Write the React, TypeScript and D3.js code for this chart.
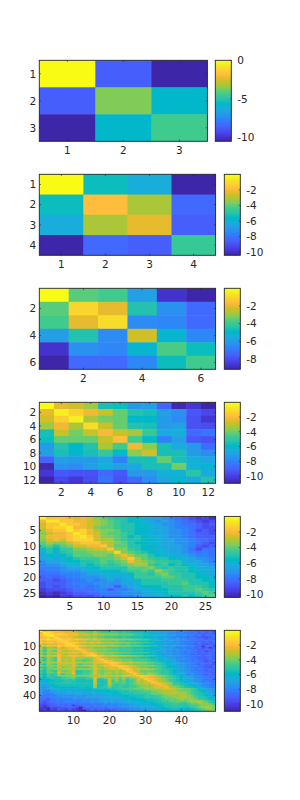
import React from "react";
import * as d3 from "d3";

// Values (log-scale cell values).
const matrix3 = [
  [0, -8.6, -10.5],
  [-8.6, -3.6, -5.6],
  [-10.5, -5.6, -4.4],
];
const matrix4 = [
  [0, -5.3, -6.1, -10.43],
  [-5.3, -1.65, -3.0, -8.2],
  [-6.1, -3.0, -2.2, -8.6],
  [-10.43, -8.2, -8.6, -4.5],
];
const matrix6 = [
  [0, -3.5, -3.8, -5.8, -8.7, -9.2],
  [-3.5, -0.9, -1.9, -4.4, -6.3, -7.3],
  [-3.8, -1.9, -0.75, -6.4, -6.6, -7.3],
  [-5.8, -4.4, -6.4, -2.3, -5.1, -6.6],
  [-8.7, -6.3, -6.6, -5.1, -3.6, -4.7],
  [-9.2, -7.3, -7.3, -6.6, -4.7, -3.8],
];
const matrix12 = [
  [0, -2.3, -2.7, -3.3, -5.5, -5.6, -7.1, -6.9, -8.8, -10.7, -10.3, -11],
  [-2.3, -0.35, -1.3, -2.2, -2.8, -4.1, -5.3, -5.4, -7.0, -7.4, -9.2, -9.7],
  [-2.7, -1.3, -0.45, -3.1, -3.9, -4.0, -6.0, -6.0, -7.1, -7.7, -9.3, -10.2],
  [-3.3, -2.2, -3.1, -1.0, -2.8, -4.0, -5.3, -5.5, -7.1, -7.0, -9.3, -9.5],
  [-5.5, -2.8, -3.9, -2.8, -1.9, -2.8, -3.1, -4.7, -6.6, -6.2, -8.7, -8.4],
  [-5.6, -4.1, -4.0, -4.0, -2.8, -1.8, -4.5, -5.8, -8.0, -7.0, -9.2, -9.4],
  [-7.1, -5.3, -6.0, -5.3, -3.1, -4.5, -2.2, -3.6, -5.5, -6.6, -7.2, -8.6],
  [-6.9, -5.4, -6.0, -5.5, -4.7, -5.8, -3.6, -2.7, -5.4, -5.5, -7.2, -7.7],
  [-8.8, -7.0, -7.1, -7.1, -6.6, -8.0, -5.5, -5.4, -4.0, -5.4, -6.2, -6.8],
  [-10.7, -7.4, -7.7, -7.0, -6.2, -7.0, -6.6, -5.5, -5.4, -3.8, -6.2, -6.1],
  [-10.3, -9.2, -9.3, -9.3, -8.7, -9.2, -7.2, -7.2, -6.2, -6.2, -5.0, -6.7],
  [-11, -9.7, -10.2, -9.5, -8.4, -9.4, -8.6, -7.7, -6.8, -6.1, -6.7, -5.3],
];
// Larger matrices: one character per cell, base 36, in half units below zero.
const rows26 = [
  "0333454578 9AABBCDDEF GHIJIK",
  "4113344567 89ABBCDEDE FGHIJI",
  "5331334567 89AABCCDEE FGGHIH",
  "5322144578 89AABBCDDE FFGHII",
  "6433132467 78AABBCCDE EFGIHI",
  "7544312457 889ABCCDDE EFGHHI",
  "6444321357 789BABCCDE EFGHHH",
  "7545322256 689AABBCDD EEFGGH",
  "8677543335 678ABBCCDD EEFGHI",
  "98A8755443 688AABBCDD DEFHIH",
  "CAB9977655 3779ABCCCD DEGIGG",
  "CACA988777 6278 9ABCCD DEFGFG",
  "DBCBA88877 8646 88ABCC DDEFFG",
  "DCDCBA9998 8753 689AAB CCDEEF",
  "EDDCBBAA98 9874 678 99A ACDDEF",
  "FEEDCCABA9 A987 669A9B ABCDDE",
  "FFFEDDCBBA AAA8 887 9A9 AABCDD",
  "GFFEEEDCCB BBA9 98968 9 AABCCD",
  "GGGFFFEDDC CCCB 99A87 9 9AABCD",
  "HGHGFFEEED CDCC 999988 9AABBC",
  "HHIHGGFEFE DEDC BAAA99 99AABC",
  "IHHHGFFFEE EEDD CAAAA9 98AAAB",
  "IHIHGGFGFE EHED CBBBAA A999AB",
  "JIIIHGGGFF HFFE DCCBBA A9989A",
  "KJKJIHHGGF FFEE EDCCBA AAA989",
  "LKLJJIIIHG GGFF EDDCCB BABA98",
];
const rows49 = [
  "0434445556 7888979AAA 9ABABBCCCC DDEEEEFEFG FGHHIHIHJ",
  "4123444555 6778878999 99A9ABBBBC CDDDEEFFGF GGHGIHIHI",
  "3212323344 4555656677 7788889AAB BCDDDEFEFG FGGHHIHHI",
  "4321344455 6777878899 99A9AABBBC CDDEEFFFGG GHHIHJIIH",
  "4434234445 6677778899 9AA9ABBBBC CDDEEEFGFG GHGHIIJIH",
  "3323323334 3444545566 6677778899 ABBCDDEEEF FGGGHHIHI",
  "4544433345 5667777888 9899AAABBB CCDDEFEFFG GGHHIIHIH",
  "3433433233 3445454566 6677788899 ABCCDDEFEF GGGHGIHIH",
  "5655544323 5677778888 899A9AABBC CDDEEFFEFG GHHIHIJII",
  "4544434332 3445555566 6677788899 ABBCDDEEFE FGGHIKHHI",
  "7977846544 3577788889 99A9AABBBC CCDDEFEFGG GHGIHJIKI",
  "6966655544 3345577777 889999AAAB BCCDDEEFEG FGHHIIHII",
  "8A78946766 6445778889 99AAAABBBC CDDEEFFGFG HGHHIIJIH",
  "6866555544 4534456677 7788899999 ABCCDEEEFF GGGHIHIHI",
  "8A78846766 6654347788 899AAABBBC CDDEFFFGFG HGIHIIIHI",
  "5755545544 4543324455 5566677889 9ABCCDDEEF FGGHHIHHI",
  "9A78947675 7677754778 8899AAAABB CCDDEEFFGG GGHHIIIHI",
  "8A78946665 7788754356 6778889999 ABBCDDEEFF FGHHIIIHI",
  "9A78947675 8898855434 5778889999 ABBCDDEEFG GGHGHIJIH",
  "6866655555 6666554433 3345556677 889ABCCDEE FFGGHHIHI",
  "9B78957675 8988857654 3456778888 99AABCDDEF FGGHIHIIJ",
  "7877766665 6766556544 3333455777 7789ABCCDE EFGFHHIIH",
  "AB88958775 9999857865 5534457788 99A9BCCDEE FGGHHIIJI",
  "8A88776666 7777756765 5553345566 6789ABBCDE FFGHGHIHI",
  "AB89A68875 AA99857877 7676346688 8899AABCDE EFGGHHIHH",
  "9B88957775 AA99857876 7676534678 7889AABCDD EFFGGHHII",
  "BC9AA7A885 AA99857877 8787653578 6789AABCDE EGFGHHIHI",
  "9B9A977777 7777665555 5554444333 4456789ABC DEEFFGHHH",
  "BCAABB9987 AAA9857877 8787876534 4567899ABC DDEFGGGHH",
  "CDCBBBA9A9 BBBAA5BA96 8797A88563 4456789ABC DEEFFGHHI",
  "CDCCBBBAAA BBBBB5BBA6 9798A98565 3456789ABC DDEFFGGHH",
  "DDCBBBAAAB BBBBB5BBB6 9898A98676 5345678AAB CDDEFGFGH",
  "DEDCBBBBBB BBBBB6BBB6 9A99A98776 6544567AAB BCDEEFGGH",
  "DEDCCBBBBB BBBBB6BBA7 9A9AA99877 7654457889 BBCDEFFGG",
  "EFEDCCCCCC CBBCB7BAA8 AA9AA99877 7655546789 ABBCDEFGG",
  "EFDDDCCCCD CCCCCBBBBA BAA9998887 7766555677 889ACDEEF",
  "EFGEEDDDDD DDDCDDCCCC BBAAA99998 8777666678 889ABCDEF",
  "FGFFEEEEDE DDEDDDDDCC CCBBBAAA99 9887766667 789ABCDEF",
  "FGHGFFEEEE EDEEEDEDDD CCCBBBAAAA 9888776676 789ABBCDE",
  "GHGGGFFFFF EEFEEEEEDD DDCCCBBBBA AA99877776 6789ABCDE",
  "GHHGGGFFFF FFFEEEEEDD DDDCCCCBBA AAA9888776 6789AABCD",
  "HHIHGGGGGF FFFFFFEEEE DDDDCCCCCB BBAA988877 7778AABCD",
  "HIIHHGGGGG GGFGFFFEEE EEEDDDCCCC BBBA998887 8777789AB",
  "IJIHHHHGGG HGGGFGFFEF EFEEDDDDCC CCBBAA9989 9877678AB",
  "IJIIHHHHHH HGHHGGGGFG FFFEEEDDDD DCCBBAA99A A98877789",
  "JKJIIHHIHK IHHHHGHGGG GGFFFEEEDD DDCCBBAAAA BA9987778",
  "KLKJJJIIII JLIHIHHHHG GGGFFFEEDE DDCCCBBAAB BBA987678",
  "KKMJKIJJIJ KLIIHIHHIH HHGGGFFFEE EDDDCCBBBC CCBA98768",
  "LKLKKJJKJJ KLMJIJIIJI IHHHGGFFEF EEEDDCCBCD DCCBA9887",
];

const parula: number[][] = [
  [0.2422,0.1504,0.6603],[0.2504,0.165,0.7076],[0.2578,0.1818,0.7511],[0.2647,0.1978,0.7952],
  [0.2706,0.2147,0.8364],[0.2751,0.2342,0.871],[0.2783,0.2559,0.8991],[0.2803,0.2782,0.9221],
  [0.2813,0.3006,0.9414],[0.281,0.3228,0.9579],[0.2795,0.3447,0.9717],[0.276,0.3667,0.9829],
  [0.2699,0.3892,0.9906],[0.2602,0.4123,0.9952],[0.244,0.4358,0.9988],[0.2206,0.4603,0.9973],
  [0.1963,0.4847,0.9892],[0.1834,0.5074,0.9798],[0.1786,0.5289,0.9682],[0.1764,0.5499,0.952],
  [0.1687,0.5703,0.9359],[0.154,0.5902,0.9218],[0.146,0.6091,0.9079],[0.138,0.6276,0.8973],
  [0.1248,0.6459,0.8883],[0.1113,0.6635,0.8763],[0.0952,0.6798,0.8598],[0.0689,0.6948,0.8394],
  [0.0297,0.7082,0.8163],[0.0036,0.7203,0.7917],[0.0067,0.7312,0.766],[0.0433,0.7411,0.7394],
  [0.0964,0.75,0.712],[0.1408,0.7584,0.6842],[0.1717,0.767,0.6554],[0.1938,0.7758,0.6251],
  [0.2161,0.7843,0.5923],[0.247,0.7918,0.5567],[0.2906,0.7973,0.5188],[0.3406,0.8008,0.4789],
  [0.3909,0.8029,0.4354],[0.4456,0.8024,0.3909],[0.5044,0.7993,0.348],[0.5616,0.7942,0.3045],
  [0.6174,0.7876,0.2612],[0.672,0.7793,0.2227],[0.7242,0.7698,0.191],[0.7738,0.7598,0.1646],
  [0.8203,0.7498,0.1535],[0.8634,0.7406,0.1596],[0.9035,0.733,0.1774],[0.9393,0.7288,0.21],
  [0.9728,0.7298,0.2394],[0.9956,0.7434,0.2371],[0.997,0.7659,0.2199],[0.9952,0.7893,0.2028],
  [0.9892,0.8136,0.1885],[0.9786,0.8386,0.1766],[0.9676,0.8639,0.1643],[0.961,0.889,0.1537],
  [0.9597,0.9135,0.1423],[0.9628,0.9373,0.1265],[0.9691,0.9606,0.1064],[0.9769,0.9839,0.0805],
];
const parulaCss = parula.map(([r, g, b]) =>
  d3.rgb(r * 255, g * 255, b * 255).formatHex()
);

const decode = (rows: string[]) =>
  rows.map((r) =>
    r.replace(/ /g, "").split("").map((c) => -parseInt(c, 36) / 2)
  );

const INK = "#262626";
const FONT = "'DejaVu Sans', sans-serif";
const FS = 10.5;

type Panel = {
  data: number[][];
  top: number;
  axisRight: number;
  barLeft: number;
  barRight: number;
  clim: [number, number];
  xTicks: number[];
  yTicks: number[];
  barTicks: number[];
};

const panels: Panel[] = [
  { data: matrix3, top: 60.3, axisRight: 207.4, barLeft: 215.3, barRight: 231.3, clim: [-10.5, 0], xTicks: [1, 2, 3], yTicks: [1, 2, 3], barTicks: [0, -5, -10] },
  { data: matrix4, top: 174.3, axisRight: 215.6, barLeft: 224.3, barRight: 240.3, clim: [-10.43, 0], xTicks: [1, 2, 3, 4], yTicks: [1, 2, 3, 4], barTicks: [-2, -4, -6, -8, -10] },
  { data: matrix6, top: 288.3, axisRight: 215.6, barLeft: 224.3, barRight: 240.3, clim: [-9.2, 0], xTicks: [2, 4, 6], yTicks: [2, 4, 6], barTicks: [-2, -4, -6, -8] },
  { data: matrix12, top: 402.3, axisRight: 215.6, barLeft: 224.3, barRight: 240.3, clim: [-11, 0], xTicks: [2, 4, 6, 8, 10, 12], yTicks: [2, 4, 6, 8, 10, 12], barTicks: [-2, -4, -6, -8, -10] },
  { data: decode(rows26), top: 516.4, axisRight: 215.6, barLeft: 224.3, barRight: 240.3, clim: [-10.4, 0], xTicks: [5, 10, 15, 20, 25], yTicks: [5, 10, 15, 20, 25], barTicks: [-2, -4, -6, -8, -10] },
  { data: decode(rows49), top: 630.3, axisRight: 215.6, barLeft: 224.3, barRight: 240.3, clim: [-11, 0], xTicks: [10, 20, 30, 40], yTicks: [10, 20, 30, 40], barTicks: [-2, -4, -6, -8, -10] },
];

const LEFT = 39.3;
const H = 81;

function HeatPanel({ p }: { p: Panel }) {
  const n = p.data.length;
  const bottom = p.top + H;
  const x = d3.scaleLinear().domain([0.5, n + 0.5]).range([LEFT, p.axisRight]);
  const y = d3.scaleLinear().domain([0.5, n + 0.5]).range([p.top, bottom]);
  const color = d3.scaleQuantize<string>().domain(p.clim).range(parulaCss);
  const barY = d3.scaleLinear().domain(p.clim).range([bottom, p.top]);
  const levels = d3.range(64);
  const bandY = d3.scaleBand<number>().domain(levels).range([bottom, p.top]);
  return (
    <g>
      {p.data.map((row, i) =>
        row.map((v, j) => (
          <rect
            key={`${i}-${j}`}
            x={x(j + 0.5)}
            y={y(i + 0.5)}
            width={x(j + 1.5) - x(j + 0.5) + (j < n - 1 ? 0.5 : 0)}
            height={y(i + 1.5) - y(i + 0.5) + (i < n - 1 ? 0.5 : 0)}
            fill={color(v)}
          />
        ))
      )}
      <rect x={LEFT} y={p.top} width={p.axisRight - LEFT} height={H} fill="none" stroke={INK} strokeWidth={0.9} />
      {levels.map((l) => (
        <rect
          key={l}
          x={p.barLeft}
          y={bandY(l)!}
          width={p.barRight - p.barLeft}
          height={bandY.bandwidth() + (l > 0 ? 0.8 : 0)}
          fill={parulaCss[l]}
        />
      ))}
      <rect x={p.barLeft} y={p.top} width={p.barRight - p.barLeft} height={H} fill="none" stroke={INK} strokeWidth={0.9} />
      {p.xTicks.map((t) => (
        <g key={t}>
          <line x1={x(t)} x2={x(t)} y1={bottom} y2={bottom - 1.7} stroke={INK} strokeWidth={0.6} />
          <line x1={x(t)} x2={x(t)} y1={p.top} y2={p.top + 1.7} stroke={INK} strokeWidth={0.6} />
        </g>
      ))}
      {p.yTicks.map((t) => (
        <g key={t}>
          <line x1={LEFT} x2={LEFT + 1.7} y1={y(t)} y2={y(t)} stroke={INK} strokeWidth={0.6} />
          <line x1={p.axisRight} x2={p.axisRight - 1.7} y1={y(t)} y2={y(t)} stroke={INK} strokeWidth={0.6} />
        </g>
      ))}
      {p.barTicks.map((t) => (
        <line key={t} x1={p.barRight} x2={p.barRight - 1.5} y1={barY(t)} y2={barY(t)} stroke={INK} strokeWidth={0.5} />
      ))}
      <g opacity={0.99} fontSize={FS} fontFamily={FONT} fill={INK}>
        {p.xTicks.map((t) => (
          <text key={t} x={x(t)} y={bottom + 12.5} textAnchor="middle">{t}</text>
        ))}
        {p.yTicks.map((t) => (
          <text key={t} x={LEFT - 3} y={y(t) + 3.8} textAnchor="end">{t}</text>
        ))}
        {p.barTicks.map((t) => (
          <text key={t} x={p.barRight + 6} y={barY(t) + 3.8}>{String(t)}</text>
        ))}
      </g>
    </g>
  );
}

export default function App() {
  return (
    <svg
      width={300}
      height={800}
      viewBox="0 0 300 800"
      style={{ position: "absolute", left: 0, top: 0, background: "#fff" }}
    >
      {panels.map((p, i) => (
        <HeatPanel key={i} p={p} />
      ))}
    </svg>
  );
}
